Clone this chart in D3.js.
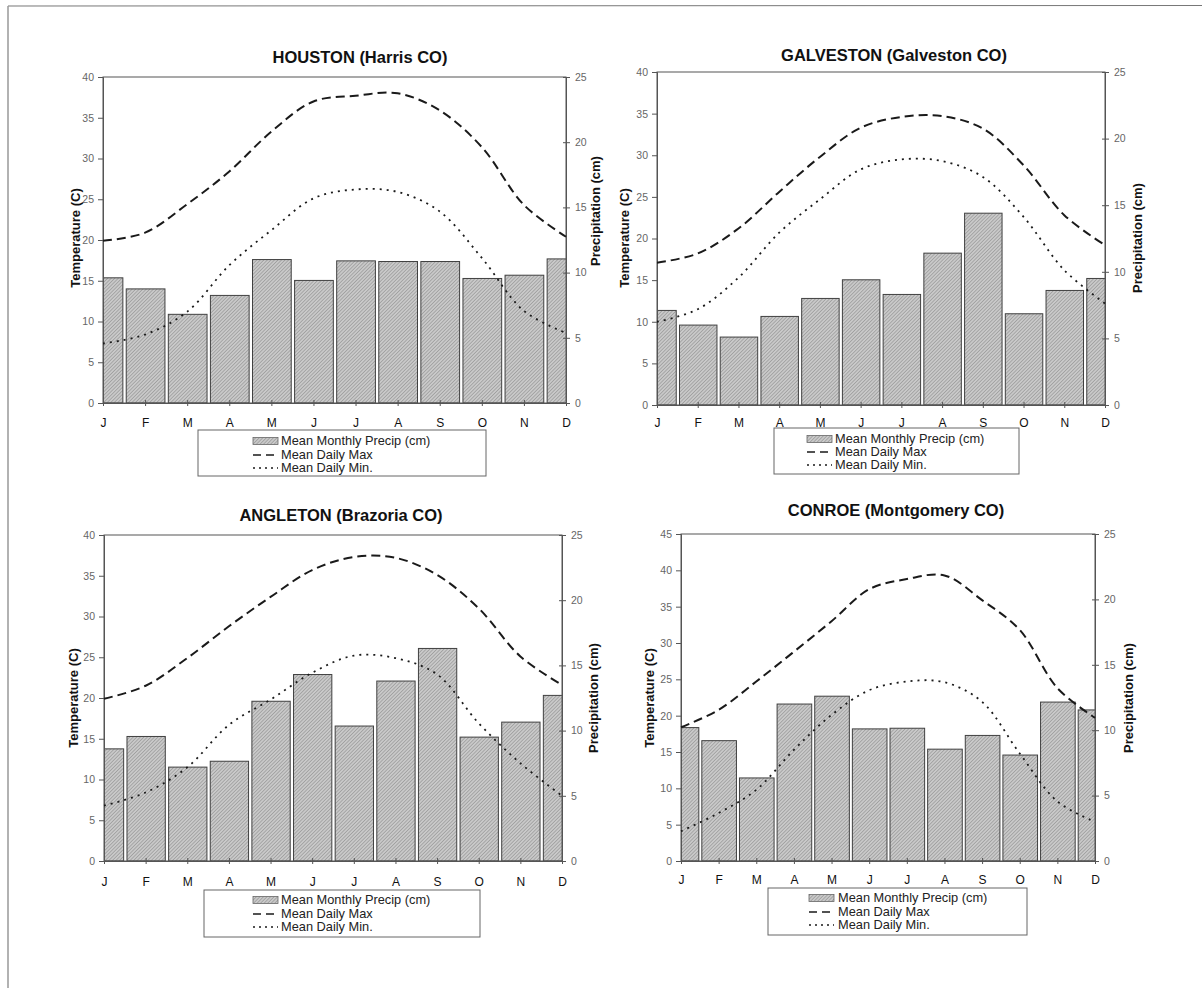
<!DOCTYPE html>
<html>
<head>
<meta charset="utf-8">
<script src="https://cdn.jsdelivr.net/npm/d3@7"></script>
<style>
  html, body { margin: 0; padding: 0; background: #fff; }
  svg { display: block; }
  text { font-family: Arial, "Liberation Sans", sans-serif; }
</style>
</head>
<body>
<svg id="chart" width="1202" height="988"></svg>
<script>
// ---------------- DATA ----------------
const months = ["J","F","M","A","M","J","J","A","S","O","N","D"];

const houstonPrecip = [9.6, 8.75, 6.8, 8.25, 11.0, 9.4, 10.9, 10.85, 10.85, 9.55, 9.8, 11.05];
const houstonMax    = [19.9, 20.9, 24.4, 28.4, 33.3, 37.0, 37.7, 38.0, 35.9, 31.4, 24.3, 20.4];
const houstonMin    = [7.3, 8.4, 11.2, 16.9, 21.2, 25.1, 26.2, 25.9, 23.5, 17.8, 11.3, 8.6];

const galvestonPrecip = [7.1, 6.0, 5.1, 6.65, 8.0, 9.4, 8.3, 11.4, 14.4, 6.85, 8.6, 9.5];
const galvestonMax    = [17.1, 18.2, 21.2, 25.6, 29.8, 33.3, 34.6, 34.7, 33.2, 28.8, 22.8, 19.2];
const galvestonMin    = [10.0, 11.5, 15.3, 20.7, 24.7, 28.3, 29.5, 29.3, 27.4, 22.6, 16.2, 12.2];

const angletonPrecip = [8.6, 9.55, 7.2, 7.65, 12.25, 14.3, 10.35, 13.8, 16.3, 9.5, 10.65, 12.7];
const angletonMax    = [19.9, 21.5, 24.9, 28.8, 32.4, 35.7, 37.3, 37.2, 35.1, 31.0, 25.1, 21.6];
const angletonMin    = [6.8, 8.4, 11.5, 16.7, 19.8, 23.1, 25.2, 24.9, 22.9, 16.9, 12.0, 8.0];

const conroePrecip = [10.2, 9.2, 6.35, 12.0, 12.6, 10.1, 10.15, 8.55, 9.6, 8.1, 12.15, 11.55];
const conroeMax    = [18.4, 20.8, 24.7, 28.8, 33.0, 37.4, 38.8, 39.3, 35.9, 31.8, 23.8, 19.7];
const conroeMin    = [4.1, 6.6, 9.8, 15.3, 20.1, 23.5, 24.7, 24.6, 21.9, 14.8, 8.2, 5.4];

const tempTicks40 = [0,5,10,15,20,25,30,35,40];
const tempTicks45 = [0,5,10,15,20,25,30,35,40,45];
const precipTicks = [0,5,10,15,20,25];

const legendLabels = ["Mean Monthly Precip (cm)", "Mean Daily Max", "Mean Daily Min."];
const tempAxisTitle = "Temperature (C)";
const precipAxisTitle = "Precipitation (cm)";

// ---------------- LAYOUT ----------------
const panels = [
  { title: "HOUSTON (Harris CO)", precip: houstonPrecip, tmax: houstonMax, tmin: houstonMin,
    left: 103, right: 566, top: 77, bottom: 403, tDomain: 40, tTicks: tempTicks40,
    titleX: 360, titleY: 57, tLabX: 75, tLabY: 238, pLabX: 595, pLabY: 211, monthY: 423,
    lg: { x: 198, y: 430, w: 288, h: 46, sw: 253, tx: 281, rows: [441, 455, 468] } },
  { title: "GALVESTON (Galveston CO)", precip: galvestonPrecip, tmax: galvestonMax, tmin: galvestonMin,
    left: 657, right: 1105, top: 72, bottom: 405, tDomain: 40, tTicks: tempTicks40,
    titleX: 894, titleY: 55, tLabX: 624, tLabY: 238, pLabX: 1137, pLabY: 238, monthY: 423,
    lg: { x: 774, y: 428, w: 245, h: 46, sw: 807, tx: 835, rows: [439, 452, 465] } },
  { title: "ANGLETON (Brazoria CO)", precip: angletonPrecip, tmax: angletonMax, tmin: angletonMin,
    left: 104, right: 562, top: 535, bottom: 861, tDomain: 40, tTicks: tempTicks40,
    titleX: 341, titleY: 515, tLabX: 73.5, tLabY: 698, pLabX: 593, pLabY: 698, monthY: 882,
    lg: { x: 204, y: 890, w: 276, h: 47, sw: 253, tx: 281, rows: [900, 914, 927] } },
  { title: "CONROE (Montgomery CO)", precip: conroePrecip, tmax: conroeMax, tmin: conroeMin,
    left: 681, right: 1095, top: 534, bottom: 861, tDomain: 45, tTicks: tempTicks45,
    titleX: 896, titleY: 510, tLabX: 649, tLabY: 698, pLabX: 1128, pLabY: 698, monthY: 880,
    lg: { x: 768, y: 888, w: 259, h: 47, sw: 809, tx: 838, rows: [898, 912, 925] } }
];

const svg = d3.select("#chart");
const FONT = "Arial, 'Liberation Sans', sans-serif";

// hatch pattern
const defs = svg.append("defs");
const pat = defs.append("pattern").attr("id", "hatch")
  .attr("patternUnits", "userSpaceOnUse").attr("width", 2.5).attr("height", 2.5)
  .attr("patternTransform", "rotate(45)");
pat.append("rect").attr("width", 2.5).attr("height", 2.5).attr("fill", "#c9c9c9");
pat.append("line").attr("x1", 0).attr("y1", 0).attr("x2", 0).attr("y2", 2.5)
  .attr("stroke", "#858585").attr("stroke-width", 1);

// outer frame (top and left)
svg.append("line").attr("x1", 8).attr("y1", 6).attr("x2", 1202).attr("y2", 5.5)
  .attr("stroke", "#777").attr("stroke-width", 1);
svg.append("line").attr("x1", 8).attr("y1", 6).attr("x2", 8).attr("y2", 988)
  .attr("stroke", "#999").attr("stroke-width", 1.5);

const axisColor = "#555";

panels.forEach((p, i) => {
  const g = svg.append("g");
  const idx = d3.range(12);
  const x = d3.scalePoint().domain(idx).range([p.left, p.right]);
  const step = x.step();
  const yT = d3.scaleLinear().domain([0, p.tDomain]).range([p.bottom, p.top]);
  const yP = d3.scaleLinear().domain([0, 25]).range([p.bottom, p.top]);

  // clip for bars
  defs.append("clipPath").attr("id", "clip" + i).append("rect")
    .attr("x", p.left).attr("y", p.top).attr("width", p.right - p.left).attr("height", p.bottom - p.top);

  // bars
  const bw = step * 0.92;
  g.append("g").attr("clip-path", `url(#clip${i})`)
    .selectAll("rect").data(p.precip).join("rect")
    .attr("x", (d, j) => x(j) - bw / 2 + 0.5)
    .attr("y", d => yP(d))
    .attr("width", bw)
    .attr("height", d => yP(0) - yP(d))
    .attr("fill", "url(#hatch)")
    .attr("stroke", "#404040").attr("stroke-width", 1);

  // plot frame
  g.append("rect").attr("x", p.left).attr("y", p.top)
    .attr("width", p.right - p.left).attr("height", p.bottom - p.top)
    .attr("fill", "none").attr("stroke", axisColor).attr("stroke-width", 1);

  // left axis
  const la = g.append("g").attr("transform", `translate(${p.left},0)`)
    .call(d3.axisLeft(yT).tickValues(p.tTicks).tickSize(5).tickPadding(4));
  la.select(".domain").attr("stroke", axisColor);
  la.selectAll(".tick line").attr("stroke", axisColor);
  la.selectAll(".tick text").attr("fill", "#666").style("font-size", "10.5px")
    .style("font-family", FONT);

  // right axis
  const ra = g.append("g").attr("transform", `translate(${p.right},0)`)
    .call(d3.axisRight(yP).tickValues(precipTicks).tickSize(4).tickPadding(5));
  ra.select(".domain").attr("stroke", axisColor);
  ra.selectAll(".tick line").attr("stroke", axisColor).attr("x1", -3);
  ra.selectAll(".tick text").attr("fill", "#666").style("font-size", "10.5px")
    .style("font-family", FONT);

  // bottom axis
  const ba = g.append("g").attr("transform", `translate(0,${p.bottom})`)
    .call(d3.axisBottom(x).tickSize(3).tickFormat(j => months[j]).tickPadding(0));
  ba.select(".domain").attr("stroke", axisColor);
  ba.selectAll(".tick line").attr("stroke", axisColor).attr("y1", -3);
  ba.selectAll(".tick text").attr("fill", "#111").style("font-size", "12px")
    .style("font-family", FONT)
    .attr("y", p.monthY - p.bottom).attr("dy", "0.35em");

  // lines
  const lineT = d3.line().x((d, j) => x(j)).y(d => yT(d)).curve(d3.curveCatmullRom.alpha(0.5));
  g.append("path").datum(p.tmax).attr("d", lineT)
    .attr("fill", "none").attr("stroke", "#1a1a1a").attr("stroke-width", 2)
    .attr("stroke-dasharray", "9,5");
  g.append("path").datum(p.tmin).attr("d", lineT)
    .attr("fill", "none").attr("stroke", "#1a1a1a").attr("stroke-width", 1.8)
    .attr("stroke-dasharray", "2,5");

  // title
  g.append("text").attr("x", p.titleX).attr("y", p.titleY).attr("text-anchor", "middle")
    .attr("dy", "0.35em").style("font-size", "16.5px").style("font-weight", "bold").attr("fill", "#111")
    .text(p.title);

  // axis titles
  g.append("text").attr("transform", `translate(${p.tLabX},${p.tLabY}) rotate(-90)`)
    .attr("text-anchor", "middle").attr("dy", "0.35em")
    .style("font-size", "13px").style("font-weight", "bold").attr("fill", "#111")
    .text(tempAxisTitle);
  g.append("text").attr("transform", `translate(${p.pLabX},${p.pLabY}) rotate(-90)`)
    .attr("text-anchor", "middle").attr("dy", "0.35em")
    .style("font-size", "13px").style("font-weight", "bold").attr("fill", "#111")
    .text(precipAxisTitle);

  // legend
  const lg = p.lg;
  const L = g.append("g");
  L.append("rect").attr("x", lg.x).attr("y", lg.y).attr("width", lg.w).attr("height", lg.h)
    .attr("fill", "#fff").attr("stroke", "#666").attr("stroke-width", 1);
  L.append("rect").attr("x", lg.sw).attr("y", lg.rows[0] - 3.5).attr("width", 25).attr("height", 7)
    .attr("fill", "url(#hatch)").attr("stroke", "#666").attr("stroke-width", 0.8);
  L.append("line").attr("x1", lg.sw).attr("x2", lg.sw + 25).attr("y1", lg.rows[1]).attr("y2", lg.rows[1])
    .attr("stroke", "#1a1a1a").attr("stroke-width", 1.5).attr("stroke-dasharray", "8,5");
  L.append("line").attr("x1", lg.sw).attr("x2", lg.sw + 25).attr("y1", lg.rows[2]).attr("y2", lg.rows[2])
    .attr("stroke", "#1a1a1a").attr("stroke-width", 1.5).attr("stroke-dasharray", "2,4");
  legendLabels.forEach((t, k) => {
    L.append("text").attr("x", lg.tx).attr("y", lg.rows[k]).attr("dy", "0.35em")
      .style("font-size", "12.8px").attr("fill", "#222").text(t);
  });
});
</script>
</body>
</html>
